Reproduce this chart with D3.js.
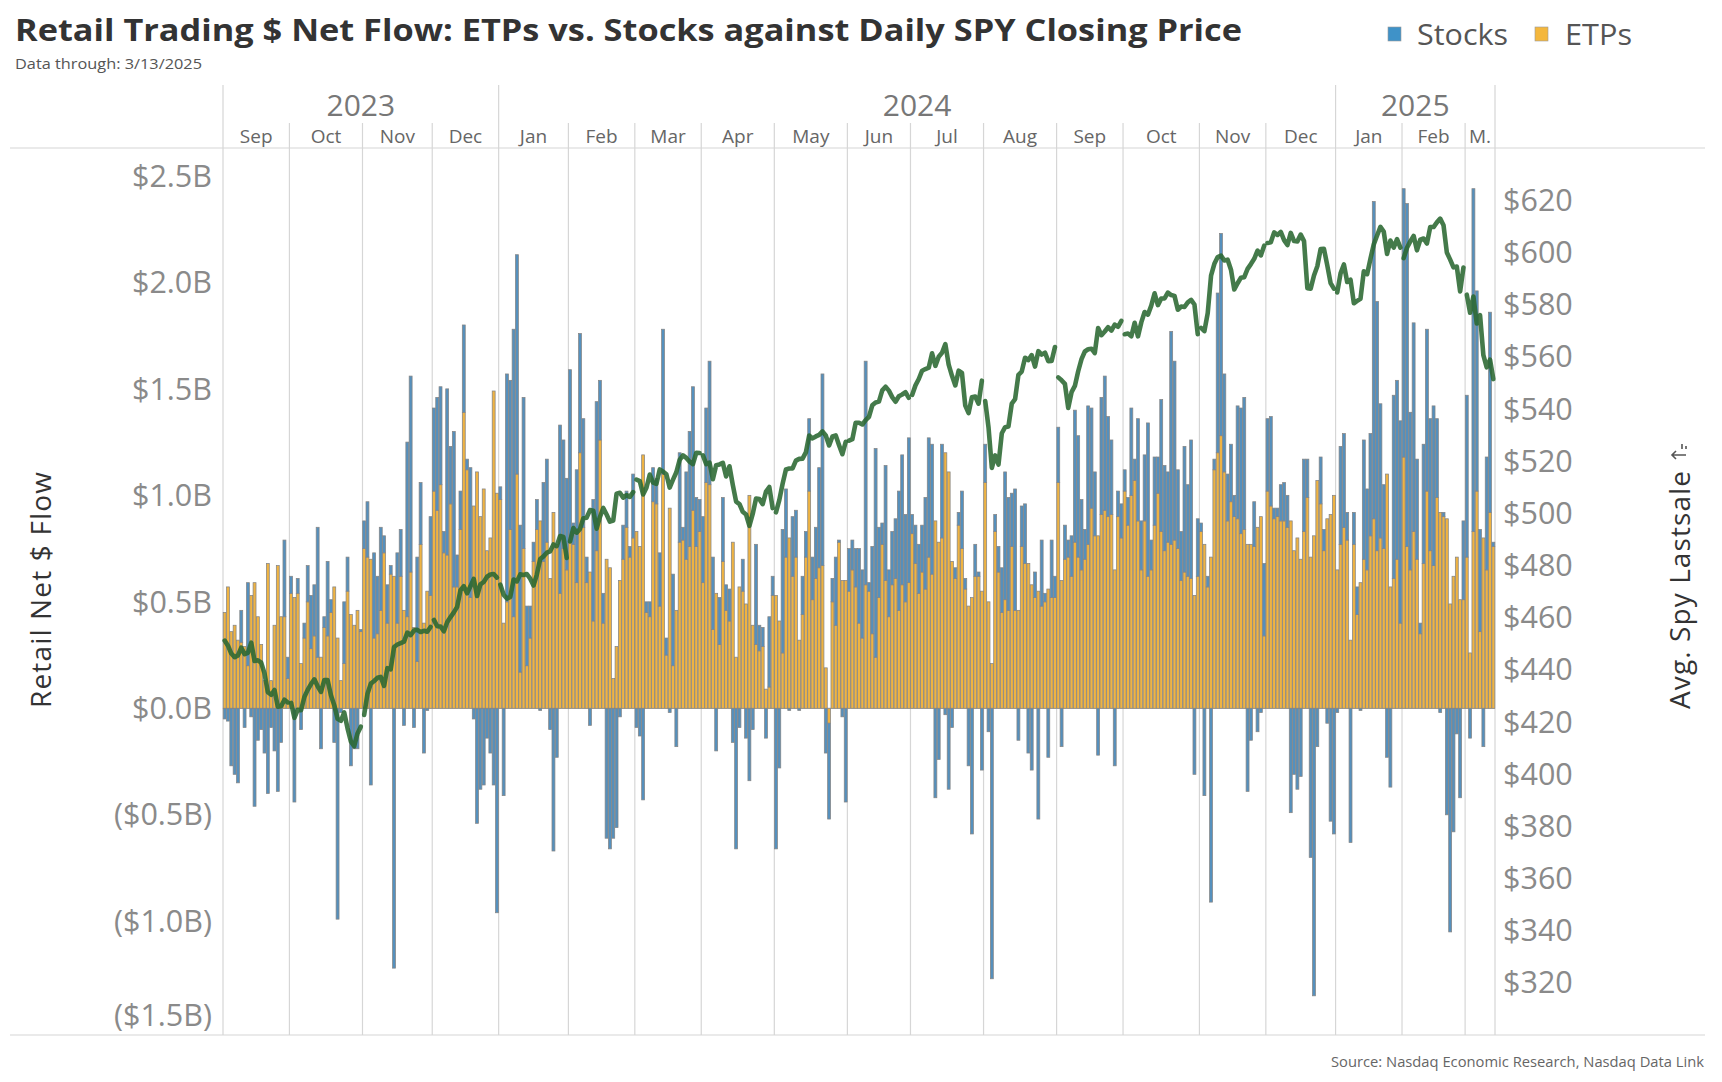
<!DOCTYPE html>
<html><head><meta charset="utf-8">
<script src="https://cdn.jsdelivr.net/npm/d3@7"></script>
<style>body{margin:0;background:#fff;} svg{display:block;font-family:"Open Sans","Noto Sans",sans-serif;}</style>
</head><body><svg id="c" width="1722" height="1082"></svg>
<script>
// ---------- DATA ----------
const monthLabels  = ["Sep","Oct","Nov","Dec","Jan","Feb","Mar","Apr","May","Jun","Jul","Aug","Sep","Oct","Nov","Dec","Jan","Feb","M."];
const monthNumbers = [9,10,11,12,1,2,3,4,5,6,7,8,9,10,11,12,1,2,3];
const monthYears   = [2023,2023,2023,2023,2024,2024,2024,2024,2024,2024,2024,2024,2024,2024,2024,2024,2025,2025,2025];
const yearLabels   = ["2023","2024","2025"];
// trading days (day of month) in each month
const monthDays = [
 [1,5,6,7,8,11,12,13,14,15,18,19,20,21,22,25,26,27,28,29],
 [2,3,4,5,6,9,10,11,12,13,16,17,18,19,20,23,24,25,26,27,30,31],
 [1,2,3,6,7,8,9,10,13,14,15,16,17,20,21,22,24,27,28,29,30],
 [1,4,5,6,7,8,11,12,13,14,15,18,19,20,21,22,26,27,28,29],
 [2,3,4,5,8,9,10,11,12,16,17,18,19,22,23,24,25,26,29,30,31],
 [1,2,5,6,7,8,9,12,13,14,15,16,20,21,22,23,26,27,28,29],
 [1,4,5,6,7,8,11,12,13,14,15,18,19,20,21,22,25,26,27,28],
 [1,2,3,4,5,8,9,10,11,12,15,16,17,18,19,22,23,24,25,26,29,30],
 [1,2,3,6,7,8,9,10,13,14,15,16,17,20,21,22,23,24,28,29,30,31],
 [3,4,5,6,7,10,11,12,13,14,17,18,20,21,24,25,26,27,28],
 [1,2,3,5,8,9,10,11,12,15,16,17,18,19,22,23,24,25,26,29,30,31],
 [1,2,5,6,7,8,9,12,13,14,15,16,19,20,21,22,23,26,27,28,29,30],
 [3,4,5,6,9,10,11,12,13,16,17,18,19,20,23,24,25,26,27,30],
 [1,2,3,4,7,8,9,10,11,14,15,16,17,18,21,22,23,24,25,28,29,30,31],
 [1,4,5,6,7,8,11,12,13,14,15,18,19,20,21,22,25,26,27,29],
 [2,3,4,5,6,9,10,11,12,13,16,17,18,19,20,23,24,26,27,30,31],
 [2,3,6,7,8,10,13,14,15,16,17,21,22,23,24,27,28,29,30,31],
 [3,4,5,6,7,10,11,12,13,14,18,19,20,21,24,25,26,27,28],
 [3,4,5,6,7,10,11,12,13]
];
// Retail net $ flow, billions — ETPs
const etps = [
 0.45,0.57,0.36,0.39,0.32,0.31,0.29,0.20,0.53,0.59,0.43,0.30,0.13,0.68,0.13,0.39,0.67,0.43,0.43,0.14,
 0.54,0.52,0.54,0.21,0.33,0.50,0.28,0.34,0.24,0.24,0.38,0.34,0.45,0.57,0.33,0.13,0.21,0.55,0.44,0.39,0.46,0.36,
 0.75,0.71,0.70,0.33,0.35,0.46,0.73,0.40,0.63,0.62,0.40,0.62,0.46,0.43,0.64,0.38,0.22,0.77,0.40,0.55,0.53,
 1.02,0.93,1.05,0.73,0.72,0.96,0.57,0.57,0.84,1.39,1.12,0.52,0.95,1.11,0.90,1.03,0.74,0.80,1.49,1.01,
 0.98,0.40,0.50,0.84,0.43,1.10,0.17,0.75,0.20,0.33,0.69,0.84,0.88,0.69,0.78,0.61,0.92,0.77,0.54,0.75,0.65,
 0.78,0.77,0.59,1.20,0.85,0.59,0.64,0.41,0.74,1.26,0.40,0.70,0.66,0.14,0.29,0.60,0.70,0.85,0.71,0.80,
 0.83,0.76,1.19,0.45,0.43,0.97,0.96,0.48,1.10,0.25,0.94,0.20,0.46,0.78,0.79,0.70,0.76,0.93,0.76,0.83,
 0.59,1.06,1.05,0.37,0.54,0.30,0.69,0.46,0.41,0.78,0.24,0.57,0.55,0.49,1.00,0.39,0.30,0.27,0.29,0.09,0.10,0.53,
 0.53,0.41,0.26,0.71,0.80,0.62,0.71,0.32,0.44,0.71,1.02,0.51,0.61,0.66,0.67,0.19,-0.07,0.50,0.39,0.78,0.60,0.60,
 0.55,0.65,0.57,0.40,0.33,0.58,0.55,0.35,0.24,0.52,0.77,0.60,0.43,0.58,0.61,0.46,0.58,0.50,0.59,
 0.82,0.68,0.54,0.64,0.56,0.71,0.63,0.88,0.78,0.80,1.20,1.11,0.69,0.61,0.86,0.75,0.56,0.48,0.52,0.62,0.62,0.55,
 1.06,0.50,0.21,0.83,0.64,0.45,0.51,0.46,0.76,0.46,0.46,0.76,0.68,0.68,0.58,0.52,0.55,0.48,0.50,0.56,0.52,0.52,
 1.06,0.60,0.70,0.71,0.62,0.78,0.71,0.65,0.70,0.77,0.94,0.81,0.81,0.91,0.93,0.90,0.91,0.65,0.90,0.80,
 1.02,0.86,1.00,1.07,0.88,0.65,0.88,0.62,0.65,0.86,1.01,0.83,0.74,0.78,0.77,0.79,0.75,0.60,0.64,0.62,0.61,0.53,0.62,
 0.83,0.77,0.57,0.71,1.12,1.20,1.28,1.11,0.88,0.97,0.90,0.89,0.82,0.84,0.77,0.77,0.76,0.85,0.90,0.34,
 1.02,0.95,0.89,0.90,0.88,0.88,0.85,0.88,0.74,0.80,0.70,0.83,0.99,0.71,0.81,1.07,0.96,0.74,0.89,0.91,1.00,
 0.65,0.77,0.85,0.79,0.32,0.77,0.44,0.59,0.70,0.65,0.81,0.89,0.74,0.80,0.75,1.10,0.57,0.61,0.70,0.40,
 1.18,0.76,0.65,0.83,0.70,0.35,0.68,1.02,0.74,0.67,0.99,0.92,0.90,0.89,0.49,0.62,0.71,0.51,0.51,
 0.71,0.26,0.83,1.02,0.36,0.80,0.65,0.92,0.76
];
// Retail net $ flow, billions — Stocks
const stocks = [
 -0.05,-0.06,-0.27,-0.31,-0.35,0.15,-0.09,0.39,-0.04,-0.46,-0.15,-0.10,-0.21,-0.40,-0.09,-0.20,-0.39,-0.16,0.36,0.10,
 0.08,-0.44,0.07,-0.10,0.07,0.17,0.25,0.24,0.61,-0.19,0.05,0.35,0.06,-0.16,-0.99,-0.02,0.29,0.16,-0.27,-0.19,-0.19,0.01,
 0.13,0.26,-0.36,0.40,0.27,0.39,0.08,0.18,0.04,-1.22,0.33,0.22,-0.08,0.82,0.92,-0.09,0.49,0.29,-0.21,-0.01,0.37,
 0.39,0.53,0.46,0.10,0.78,0.27,0.73,0.15,0.18,0.41,0.05,0.61,-0.05,-0.54,-0.38,-0.36,-0.14,-0.21,-0.36,-0.96,
 0.06,-0.41,1.07,0.70,1.35,1.03,0.69,0.71,0.28,0.15,0.09,0.14,-0.01,0.37,0.39,-0.10,-0.67,-0.23,0.79,0.51,0.43,
 0.81,0.10,0.53,0.56,0.51,0.12,-0.08,0.57,0.70,0.28,0.14,-0.61,-0.66,-0.61,-0.56,-0.04,0.16,0.17,0.05,0.30,
 -0.09,-0.13,-0.43,0.05,0.07,0.16,0.12,0.25,0.68,0.08,-0.02,0.43,-0.18,0.42,0.06,0.41,0.54,0.58,0.23,0.15,
 0.31,0.35,0.58,0.34,-0.20,0.22,0.30,0.12,0.15,-0.16,-0.66,-0.09,0.15,-0.14,-0.34,-0.10,0.47,0.12,0.09,-0.14,0.33,0.09,
 -0.66,-0.28,0.58,0.32,-0.01,0.28,0.22,-0.01,0.18,0.12,0.34,0.20,0.24,0.47,0.90,-0.21,-0.45,0.11,0.32,0.01,-0.04,-0.44,
 0.20,0.14,0.18,0.35,0.32,1.05,0.04,0.41,0.98,0.33,0.10,0.54,0.22,0.25,0.28,0.56,0.61,0.41,0.68,
 0.09,0.18,0.23,0.22,0.43,0.56,0.61,-0.42,-0.24,0.44,-0.03,-0.38,-0.09,0.05,0.06,0.27,0.05,-0.27,-0.59,0.15,0.02,-0.29,
 0.18,-0.11,-1.27,0.08,0.12,0.21,0.60,0.53,0.25,0.57,-0.15,0.19,0.28,-0.21,-0.29,0.12,-0.52,0.31,0.04,-0.23,0.27,0.10,
 0.26,-0.18,0.16,0.08,0.19,0.62,0.57,0.33,0.14,0.65,0.47,0.30,-0.22,0.55,0.63,0.47,0.35,-0.27,0.12,0.16,
 0.10,0.13,0.41,0.10,0.48,0.23,0.31,0.72,0.14,0.32,0.17,0.62,0.40,0.33,1.00,0.84,0.37,0.23,0.59,0.43,0.65,-0.31,0.27,
 0.04,-0.41,0.05,-0.91,0.05,0.75,0.95,0.46,0.22,0.27,0.10,0.53,0.59,0.62,-0.39,-0.15,0.21,-0.11,-0.02,0.34,
 0.34,0.42,0.05,0.04,0.17,0.18,0.15,-0.49,-0.31,-0.38,-0.32,0.34,0.18,-0.70,-1.35,-0.18,0.22,0.10,-0.07,-0.53,-0.59,
 -0.02,0.46,0.44,0.13,-0.63,0.15,0.13,-0.01,0.56,0.38,0.48,1.49,1.17,0.63,0.30,-0.23,-0.37,0.86,0.84,0.95,
 1.26,1.61,0.74,0.98,0.47,0.05,0.56,0.76,0.62,0.75,0.37,-0.02,0.02,-0.50,-1.05,-0.58,-0.12,-0.42,0.37,
 0.76,-0.14,1.61,0.94,0.48,-0.18,0.53,0.94,0.02
];
// Avg. SPY last sale, $
const spy = [
 451.19,449.24,446.22,444.85,445.52,448.45,445.99,446.51,450.36,443.37,443.63,442.71,438.64,431.39,430.42,432.23,425.88,426.05,428.52,427.48,
 427.31,421.59,424.66,424.50,429.54,432.29,434.54,436.32,433.66,431.50,436.04,436.02,430.21,426.43,421.19,420.46,423.63,417.55,412.55,410.68,415.59,418.20,
 422.66,430.76,434.69,435.69,436.93,437.25,433.84,440.61,440.19,448.73,449.68,450.23,450.79,454.26,453.27,455.02,455.30,454.48,454.93,454.61,456.40,
 459.10,456.69,456.60,454.76,458.23,460.20,461.99,464.10,470.50,472.01,469.33,471.97,474.84,468.26,472.70,473.65,475.65,476.51,476.69,475.31,
 472.65,468.79,467.28,467.92,474.60,473.88,476.56,476.35,476.68,474.93,472.29,476.49,482.43,483.45,484.86,485.39,488.03,487.41,491.27,490.89,482.88,
 489.20,494.35,492.55,493.98,498.10,498.32,501.20,500.98,494.08,498.57,502.01,499.51,496.76,497.21,507.50,507.85,505.99,506.93,506.26,508.08,
 512.85,512.30,507.18,509.75,514.81,511.72,511.28,516.78,515.97,514.95,509.83,512.86,515.71,520.48,522.20,521.21,519.77,518.81,523.17,523.07,
 522.16,518.84,519.41,513.07,518.43,518.72,519.32,514.12,518.00,510.85,504.45,503.53,500.55,499.52,495.16,499.72,505.65,505.41,503.49,508.26,510.06,501.98,
 500.35,505.03,511.29,516.78,517.14,517.19,520.17,520.84,520.91,523.30,529.78,528.69,529.45,530.06,531.36,529.83,525.96,529.44,529.81,526.10,522.61,527.37,
 527.80,528.39,534.67,534.66,534.01,535.66,536.95,541.36,542.45,542.78,547.10,548.49,547.00,544.51,542.74,544.83,545.51,546.37,544.22,
 545.34,549.01,551.46,554.64,555.28,555.82,561.32,556.48,559.99,561.53,564.86,556.94,552.66,548.99,554.65,553.78,541.23,538.41,544.44,544.76,542.00,550.81,
 543.01,532.90,517.38,522.15,518.66,530.65,532.99,533.27,542.04,543.75,553.07,554.31,559.61,558.70,560.62,556.22,562.13,560.79,561.56,558.30,558.35,563.68,
 552.08,550.95,549.61,540.36,546.41,548.79,554.42,559.09,562.01,562.84,563.07,561.40,570.98,568.25,569.67,571.30,570.04,572.30,571.47,573.76,
 568.62,568.86,567.82,572.98,567.80,573.17,577.14,576.13,579.58,584.32,579.78,582.30,582.35,584.59,583.63,583.32,577.99,579.24,579.04,580.83,581.77,580.01,568.64,
 571.04,569.81,576.70,591.04,595.61,598.19,598.76,596.90,597.19,593.35,585.75,588.15,590.30,590.50,593.67,595.51,597.53,600.65,598.83,602.55,
 603.63,603.91,607.66,606.66,607.81,604.68,602.80,607.46,604.33,604.21,606.79,604.29,586.28,586.10,591.15,594.69,601.30,601.34,595.01,588.22,586.08,
 584.64,591.95,595.36,588.63,589.49,580.49,581.39,582.19,592.78,591.64,597.58,603.05,606.44,609.75,607.97,599.37,604.52,601.81,605.04,601.82,
 597.77,601.78,604.22,606.32,600.77,604.85,605.31,603.36,609.73,609.70,611.49,612.93,610.38,599.94,597.21,594.24,594.54,585.05,594.18,
 583.77,576.86,583.06,572.71,575.92,560.58,555.92,558.87,551.42
];
const leftTicks  = [-1.5,-1.0,-0.5,0,0.5,1.0,1.5,2.0,2.5];
const rightTicks = [320,340,360,380,400,420,440,460,480,500,520,540,560,580,600,620];
const seriesNames = ["Stocks","ETPs"];

// ---------- LAYOUT ----------
const svg = d3.select("#c");
const P = {l:223, r:1495, t:148, b:1035};
const C = {stocks:"#5590bd", etps:"#efb342", legS:"#3f92c8", legE:"#f4b73d", line:"#2a6831", grid:"#d6d6d6", border:"#858585"};

const keys = [], monthOf = [], monthStart = [];
monthDays.forEach((days,m)=>{ monthStart.push(keys.length);
  days.forEach(d=>{ keys.push(monthYears[m]+"-"+monthNumbers[m]+"-"+d); monthOf.push(m); }); });

const x = d3.scaleBand().domain(keys).range([P.l,P.r]).paddingInner(0.12).paddingOuter(0.06);
const step = x.step(), off = (step - x.bandwidth())/2;
const slotL = i => x(keys[i]) - off;
const yL = d3.scaleLinear().domain([-1.534, 2.631]).range([P.b, P.t]);
const yR = d3.scaleLinear().domain([300, 640]).range([P.b, P.t]);

// header / frame lines
const g0 = svg.append("g");
g0.append("line").attr("x1",10).attr("x2",1705).attr("y1",P.t).attr("y2",P.t).attr("stroke",C.grid).attr("stroke-width",1.2);
g0.append("line").attr("x1",10).attr("x2",1705).attr("y1",P.b).attr("y2",P.b).attr("stroke",C.grid).attr("stroke-width",1.2);
monthStart.forEach((s,m)=>{
  const xx = slotL(s);
  const top = (m===0 || monthNumbers[m]===1) ? 85 : 123;
  g0.append("line").attr("x1",xx).attr("x2",xx).attr("y1",top).attr("y2",P.b).attr("stroke",C.grid).attr("stroke-width",1.2);
});
g0.append("line").attr("x1",P.r).attr("x2",P.r).attr("y1",85).attr("y2",P.b).attr("stroke",C.grid).attr("stroke-width",1.2);

// month + year headers
monthStart.forEach((s,m)=>{
  const e = s + monthDays[m].length;
  const cx = (slotL(s) + (e<keys.length ? slotL(e) : P.r))/2;
  svg.append("text").attr("x",cx).attr("y",136).attr("dy","0.35em").attr("text-anchor","middle")
    .attr("font-size",19).attr("fill","#666").text(monthLabels[m]);
});
yearLabels.forEach(yr=>{
  const ms = monthYears.map((y,i)=>y===+yr?i:-1).filter(i=>i>=0);
  const a = slotL(monthStart[ms[0]]);
  const lastM = ms[ms.length-1];
  const endIdx = monthStart[lastM] + monthDays[lastM].length;
  const b = endIdx<keys.length ? slotL(endIdx) : P.r;
  svg.append("text").attr("x",(a+b)/2).attr("y",105).attr("dy","0.35em").attr("text-anchor","middle")
    .attr("font-size",30).attr("fill","#777").text(yr);
});

// zero line
svg.append("line").attr("x1",P.l).attr("x2",P.r).attr("y1",yL(0)).attr("y2",yL(0)).attr("stroke","#b5b5b5").attr("stroke-width",1);

// stacked bars (ETPs at the base, Stocks stacked on top / below zero)
const bars = svg.append("g").attr("stroke",C.border).attr("stroke-width",0.75);
keys.forEach((k,i)=>{
  const E = etps[i], S = stocks[i];
  let pos = 0, neg = 0;
  const segs = [];
  if (E >= 0) { segs.push(["etps",0,E]); pos = E; } else { segs.push(["etps",E,0]); neg = E; }
  if (S >= 0) { segs.push(["stocks",pos,pos+S]); } else { segs.push(["stocks",neg+S,neg]); }
  segs.forEach(([s,a,b])=>{
    if (b-a <= 0) return;
    bars.append("rect").attr("x",x(k)).attr("width",x.bandwidth())
      .attr("y",yL(b)).attr("height",Math.max(0.5,yL(a)-yL(b))).attr("fill",C[s]);
  });
});

// SPY line, one path per month pane
const line = d3.line().x(i=>x(keys[i])+x.bandwidth()/2).y(i=>yR(spy[i]));
monthStart.forEach((s,m)=>{
  const idx = d3.range(s, s+monthDays[m].length);
  svg.append("path").attr("d",line(idx)).attr("fill","none").attr("stroke",C.line)
    .attr("stroke-width",4.6).attr("stroke-opacity",0.88).attr("stroke-linejoin","round").attr("stroke-linecap","round");
});

// axes labels
const fmtL = v => v<0 ? "($"+Math.abs(v).toFixed(1)+"B)" : "$"+v.toFixed(1)+"B";
leftTicks.forEach(v=>{
  svg.append("text").attr("x",212).attr("y",Math.min(yL(v),1015)).attr("dy","0.35em").attr("text-anchor","end")
    .attr("font-size",30.5).attr("fill","#8a8a8a").text(fmtL(v));
});
rightTicks.forEach(v=>{
  svg.append("text").attr("x",1503).attr("y",yR(v)).attr("dy","0.35em").attr("text-anchor","start")
    .attr("font-size",30.5).attr("fill","#8a8a8a").text("$"+v);
});
svg.append("text").attr("transform","translate(41,590) rotate(-90)").attr("dy","0.35em").attr("text-anchor","middle")
  .attr("font-size",28).attr("fill","#333").attr("textLength",236).text("Retail Net $ Flow");
svg.append("text").attr("transform","translate(1680,590) rotate(-90)").attr("dy","0.35em").attr("text-anchor","middle")
  .attr("font-size",28).attr("fill","#333").attr("textLength",238).text("Avg. Spy Lastsale");
// small sort icon
svg.append("path").attr("d","M1677,446 L1677,460 M1673,450 L1677,446 L1681,450 M1683,456 l5,0 M1683,460 l3,0")
  .attr("stroke","#555").attr("stroke-width",1.6).attr("fill","none").attr("transform","rotate(-90,1679,453)");

// title, subtitle, legend, source
svg.append("text").attr("x",15).attr("y",41).attr("font-size",30).attr("font-weight",700).attr("fill","#333")
  .attr("textLength",1227).attr("lengthAdjust","spacingAndGlyphs")
  .text("Retail Trading $ Net Flow: ETPs vs. Stocks against Daily SPY Closing Price");
svg.append("text").attr("x",15).attr("y",69).attr("font-size",14).attr("fill","#555")
  .attr("textLength",187).attr("lengthAdjust","spacingAndGlyphs").text("Data through: 3/13/2025");
const legX = [1388, 1535], legTX = [1417, 1565], legW = [91, 67];
seriesNames.forEach((n,i)=>{
  svg.append("rect").attr("x",legX[i]).attr("y",27).attr("width",13).attr("height",14)
    .attr("fill", i===0?C.legS:C.legE).attr("stroke","#9a9a9a").attr("stroke-width",0.6);
  svg.append("text").attr("x",legTX[i]).attr("y",35).attr("dy","0.35em").attr("font-size",29).attr("fill","#555")
    .attr("textLength",legW[i]).attr("lengthAdjust","spacingAndGlyphs").text(n);
});
svg.append("text").attr("x",1704).attr("y",1062).attr("dy","0.35em").attr("text-anchor","end")
  .attr("font-size",14).attr("fill","#666").attr("textLength",373).attr("lengthAdjust","spacingAndGlyphs")
  .text("Source: Nasdaq Economic Research, Nasdaq Data Link");
</script></body></html>
